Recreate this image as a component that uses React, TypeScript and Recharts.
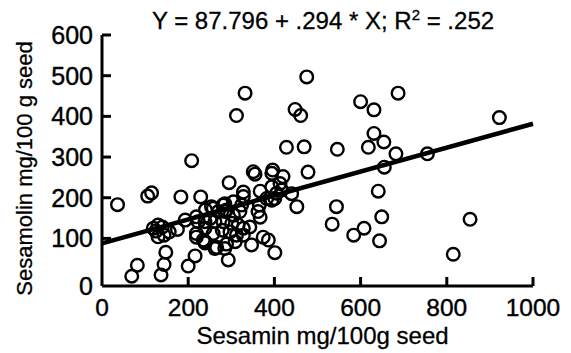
import React from 'react';
import { ScatterChart, Scatter, XAxis, YAxis, ReferenceLine } from 'recharts';

// Sesamin (mg/100g seed) for each accession
const sesamin = [
  475, 332, 312, 448, 461, 428, 469, 546, 208, 687,
  600, 631, 922, 631, 654, 618, 682, 755, 655, 478,
  641, 544, 534, 584, 608, 649, 644, 854, 815, 36,
  106, 115, 183, 229, 82, 69, 148, 144, 137, 216,
  200, 239, 262, 293, 347, 401, 374, 386, 343, 367,
  365, 362, 367, 328, 328, 295, 351, 355, 396, 394,
  420, 440, 452, 394, 413, 417, 382, 405, 394, 401,
  119, 130, 130, 144, 156, 175, 125, 140, 193, 219,
  223, 219, 219, 235, 240, 239, 251, 258, 281, 289,
  305, 254, 285, 324, 270, 285, 305, 320, 262, 281,
  301, 316, 328, 239, 258, 279, 297, 312, 328, 239,
  266, 289, 309, 285,
];

// Sesamolin (mg/100 g seed) for each accession
const sesamolin = [
  497, 457, 402, 417, 402, 324, 325, 319, 291, 457,
  436, 416, 397, 358, 337, 324, 308, 308, 275, 263,
  216, 178, 135, 108, 125, 153, 94, 147, 61, 183,
  204, 212, 202, 202, 34, 7, 66, 36, 10, 57,
  32, 89, 75, 47, 84, 65, 103, 96, 128, 152,
  182, 166, 216, 214, 203, 237, 264, 258, 268, 260,
  252, 210, 178, 227, 235, 219, 198, 211, 194, 198,
  125, 133, 104, 108, 116, 122, 118, 128, 145, 153,
  141, 112, 103, 96, 170, 141, 149, 174, 182, 170,
  190, 178, 185, 182, 166, 166, 157, 166, 141, 141,
  137, 133, 125, 125, 112, 120, 116, 108, 108, 92,
  78, 86, 92, 75,
];

const intercept = 87.796;
const slope = 0.294;
const xTicks = [0, 200, 400, 600, 800, 1000];
const yTicks = [0, 100, 200, 300, 400, 500, 600];
const xTitle = 'Sesamin mg/100g seed';
const yTitle = 'Sesamolin mg/100 g seed';

const points = sesamin.map((x, i) => ({ x, y: sesamolin[i] }));
const lineEnds = [
  { x: 0, y: intercept },
  { x: 1000, y: intercept + slope * 1000 },
];

const FONT = '"Liberation Sans", Arial, Helvetica, sans-serif';
const W = 563;
const H = 345;

const Ring = (props: any) => (
  <circle cx={props.cx} cy={props.cy} r={6.3} fill="none" stroke="#000" strokeWidth={2.4} />
);

const YTick = (props: any) => {
  const { x, y, payload } = props;
  const ax = x + 9;
  const v = payload.value;
  return (
    <g>
      {v !== 0 && <line x1={ax} x2={ax + 9} y1={y} y2={y} stroke="#000" strokeWidth={3} />}
      <text x={x} y={v === 0 ? y + 7 : y} textAnchor="end" dominantBaseline="central"
        fontFamily={FONT} fontSize={25} fill="#000" stroke="#000" strokeWidth={0.4}>{v}</text>
    </g>
  );
};

const XTick = (props: any) => {
  const { x, y, payload } = props;
  const ay = y - 13;
  const v = payload.value;
  return (
    <g>
      {v !== 0 && <line x1={x} x2={x} y1={ay} y2={ay - 9} stroke="#000" strokeWidth={3} />}
      <text x={x} y={y} dy="0.71em" textAnchor="middle"
        fontFamily={FONT} fontSize={24.5} fill="#000" stroke="#000" strokeWidth={0.4}>{v}</text>
    </g>
  );
};

export default function App() {
  return (
    <div style={{ position: 'relative', width: W, height: H }}>
      <ScatterChart width={W} height={H} margin={{ top: 27, right: 38, left: 0, bottom: 0 }}>
        <XAxis
          type="number"
          dataKey="x"
          domain={[0, 1000]}
          ticks={xTicks}
          height={67}
          tickSize={0}
          tickMargin={13}
          tick={<XTick />}
          axisLine={{ stroke: '#000', strokeWidth: 3 }}
          interval={0}
          label={{
            content: (p: any) => (
              <text x={p.viewBox.x + p.viewBox.width / 2 + 5} y={p.viewBox.y + 58}
                textAnchor="middle" fontFamily={FONT} fontSize={24} fill="#000"
                stroke="#000" strokeWidth={0.3}>{xTitle}</text>
            ),
          }}
        />
        <YAxis
          type="number"
          dataKey="y"
          domain={[-17, 600]}
          ticks={yTicks}
          width={94}
          tickSize={0}
          tickMargin={9}
          tick={<YTick />}
          axisLine={{ stroke: '#000', strokeWidth: 3 }}
          interval={0}
          label={{
            content: (p: any) => {
              const cx = 24;
              const cy = p.viewBox.y + p.viewBox.height / 2 + 8;
              return (
                <text x={cx} y={cy} transform={`rotate(-90 ${cx} ${cy})`} textAnchor="middle"
                  fontFamily={FONT} fontSize={22} fill="#000" stroke="#000" strokeWidth={0.3}>{yTitle}</text>
              );
            },
          }}
        />
        <ReferenceLine segment={lineEnds} stroke="#000" strokeWidth={4.5} ifOverflow="visible" />
        <Scatter data={points} shape={<Ring />} isAnimationActive={false} />
      </ScatterChart>
      <svg width={W} height={44} style={{ position: 'absolute', left: 0, top: -8, overflow: 'visible' }}>
        <text x={315} y={29} textAnchor="middle" fontFamily={FONT} fontSize={24} fill="#000"
          stroke="#000" strokeWidth={0.3}>
          Y = 87.796 + .294 * X; R
          <tspan fontSize={15} dy={-9}>2</tspan>
          <tspan dy={9}> = .252</tspan>
        </text>
      </svg>
    </div>
  );
}
